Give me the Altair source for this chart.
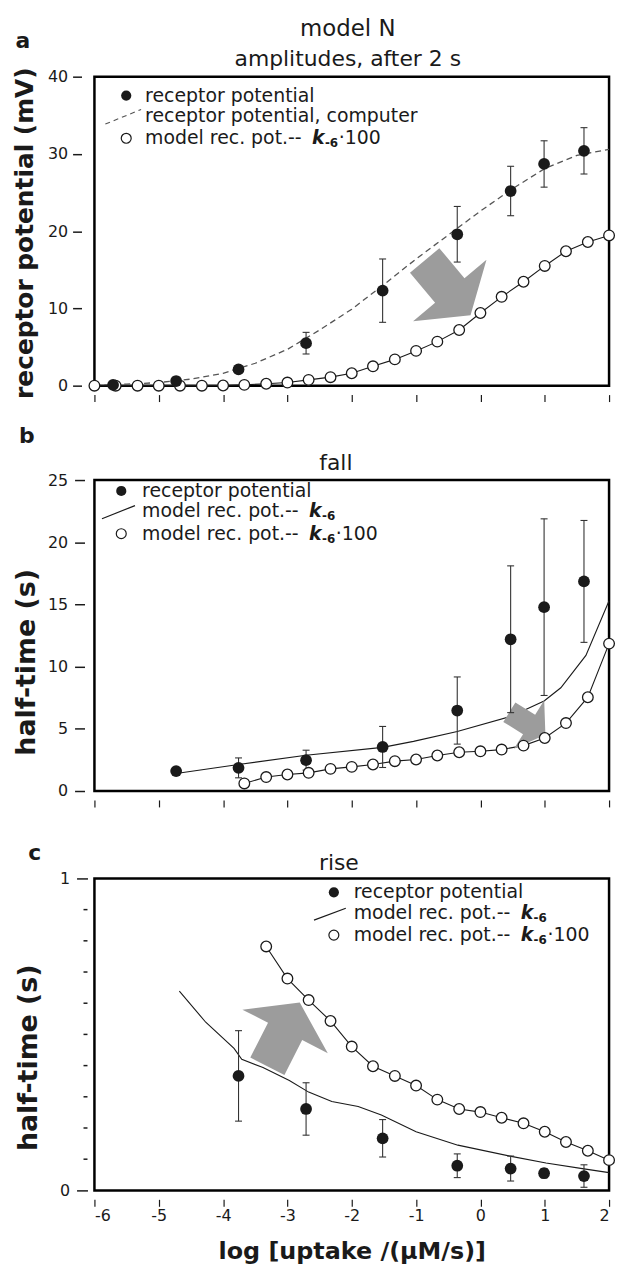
import altair as alt
import pandas as pd

FONT = "DejaVu Sans"
INK = "#1a1a1a"
GRAY = "#9c9c9c"

X_TICKS = [-6, -5, -4, -3, -2, -1, 0, 1, 2]

# ---------------- panel a : amplitudes ----------------
a_rp_x = [-5.71, -4.73, -3.76, -2.71, -1.52, -0.36, 0.47, 0.99, 1.61]
a_rp_y = [0.1, 0.6, 2.1, 5.5, 12.3, 19.6, 25.2, 28.7, 30.4]
a_rp_err = [0.0, 0.0, 0.4, 1.4, 4.1, 3.6, 3.2, 3.0, 3.0]

a_comp_x = [-6, -5.5, -5, -4.5, -4, -3.5, -3, -2.5, -2, -1.5, -1, -0.5, 0, 0.5, 1, 1.5, 2]
a_comp_y = [0.05, 0.2, 0.4, 0.85, 1.6, 2.9, 4.7, 7.2, 9.9, 13.1, 16.4, 19.5, 22.6, 25.5, 28.1, 29.8, 30.6]

a_m100_x = [-6, -5.67, -5.33, -5, -4.67, -4.33, -4, -3.67, -3.33, -3, -2.67, -2.33, -2,
            -1.67, -1.33, -1, -0.67, -0.33, 0, 0.33, 0.67, 1, 1.33, 1.67, 2]
a_m100_y = [0, 0, 0, 0, 0, 0, 0.02, 0.1, 0.25, 0.4, 0.75, 1.1, 1.6,
            2.5, 3.4, 4.5, 5.7, 7.2, 9.4, 11.5, 13.45, 15.5, 17.4, 18.6, 19.45]

# ---------------- panel b : fall half-time ----------------
b_rp_x = [-4.73, -3.76, -2.71, -1.52, -0.36, 0.47, 0.99, 1.61]
b_rp_y = [1.6, 1.86, 2.48, 3.54, 6.47, 12.2, 14.78, 16.85]
b_rp_err = [0.0, 0.8, 0.8, 1.65, 2.7, 5.9, 7.1, 4.9]

b_m_x = [-4.73, -3.76, -2.71, -1.52, -1.04, -0.36, 0.47, 0.99, 1.25, 1.64, 2.0]
b_m_y = [1.41, 2.13, 2.88, 3.51, 3.99, 4.79, 5.99, 7.24, 8.3, 10.9, 15.3]

b_m100_x = [-3.67, -3.33, -3, -2.67, -2.33, -2, -1.67, -1.33, -1, -0.67, -0.33, 0,
            0.33, 0.67, 1, 1.33, 1.67, 2]
b_m100_y = [0.61, 1.12, 1.33, 1.46, 1.78, 1.94, 2.13, 2.40, 2.53, 2.85, 3.12, 3.19,
            3.33, 3.65, 4.26, 5.46, 7.54, 11.85]

# ---------------- panel c : rise half-time ----------------
c_rp_x = [-3.76, -2.71, -1.52, -0.36, 0.47, 0.99, 1.61]
c_rp_y = [0.367, 0.261, 0.167, 0.079, 0.070, 0.055, 0.046]
c_rp_err = [0.145, 0.084, 0.06, 0.038, 0.04, 0.015, 0.036]

c_m_x = [-4.68, -4.27, -3.83, -3.71, -3.38, -2.97, -2.67, -2.31, -1.9, -1.54, -1.0,
         -0.35, 0.48, 1.02, 1.61, 2.0]
c_m_y = [0.639, 0.539, 0.455, 0.42, 0.394, 0.352, 0.315, 0.285, 0.269, 0.242, 0.188,
         0.145, 0.109, 0.088, 0.069, 0.057]

c_m100_x = [-3.33, -3, -2.67, -2.33, -2, -1.67, -1.33, -1, -0.67, -0.33, 0, 0.33, 0.67,
            1, 1.33, 1.67, 2]
c_m100_y = [0.782, 0.679, 0.610, 0.543, 0.461, 0.398, 0.367, 0.336, 0.291, 0.261, 0.251,
            0.233, 0.215, 0.188, 0.155, 0.127, 0.097]

c_minor = [0.1, 0.2, 0.3, 0.4, 0.5, 0.6, 0.7, 0.8, 0.9]

# gray block arrows (annotation, at data positions)
arrow_panel = ["a", "b", "c"]
arrow_x = [-0.51, 0.73, -3.06]
arrow_y = [12.66, 5.43, 0.50]
arrow_angle = [50, 32, 297]
arrow_size = [9300, 3300, 9300]
ARROW_PATH = "M -0.745 -0.4 L 0.071 -0.4 L 0.071 -1 L 0.745 0 L 0.071 1 L 0.071 0.4 L -0.745 0.4 Z"

ONE = pd.DataFrame({"d": [0]})
LEG_FS = 19


def xenc(axis):
    return alt.X("x:Q", scale=alt.Scale(domain=[-6, 2], nice=False, zero=False), axis=axis)


def x_axis(labels, title=None):
    kw = dict(values=X_TICKS, offset=9, tickSize=7, tickWidth=1.2, domain=False,
              grid=False, labels=labels, tickColor=INK)
    if labels:
        kw.update(labelExpr="'' + datum.value", labelFontSize=16, labelPadding=1,
                  labelFont=FONT, labelColor=INK)
    if title:
        kw.update(title=title, titleFontSize=24, titleFontWeight="bold", titleFont=FONT,
                  titleY=53, titleBaseline="middle", titleColor=INK)
    else:
        kw["title"] = None
    return alt.Axis(**kw)


def y_axis(values, offset, tick, pad, title, tfs, tx, ty):
    return alt.Axis(values=values, offset=offset, tickSize=tick, tickWidth=1.5,
                    labelPadding=pad, labelFontSize=16, labelFont=FONT, labelColor=INK,
                    labelExpr="'' + datum.value",
                    tickColor=INK, domain=False, grid=False, title=title,
                    titleFontSize=tfs, titleFontWeight="bold", titleFont=FONT,
                    titleColor=INK, titleAngle=270, titleX=tx, titleY=ty,
                    titleAlign="center", titleBaseline="middle")


def text_at(t, x, y, fs, weight="normal", align="center", style="normal"):
    return alt.Chart(ONE).mark_text(text=t, align=align, baseline="middle", font=FONT,
                                    fontSize=fs, fontWeight=weight, fontStyle=style,
                                    color=INK).encode(x=alt.value(x), y=alt.value(y))


def legend_layers(sym_x, text_x, ys, seg, dash, texts, k_lines, fs=LEG_FS):
    L = []
    L.append(alt.Chart(ONE).mark_circle(size=105, color=INK, opacity=1).encode(
        x=alt.value(sym_x), y=alt.value(ys[0])))
    rkw = dict(color="#555555" if dash else INK, strokeWidth=1.2)
    if dash:
        rkw["strokeDash"] = [5, 4]
    L.append(alt.Chart(ONE).mark_rule(**rkw).encode(
        x=alt.value(seg[0]), y=alt.value(seg[1]), x2=alt.value(seg[2]), y2=alt.value(seg[3])))
    L.append(alt.Chart(ONE).mark_point(shape="circle", filled=True, fill="white", stroke=INK,
                                       strokeWidth=1.2, size=100, opacity=1).encode(
        x=alt.value(sym_x), y=alt.value(ys[2])))
    for t, y in zip(texts, ys):
        L.append(text_at(t, text_x, y, fs, align="left"))
    kdx = 168
    for y, suffix in k_lines:
        L.append(text_at("k", text_x + kdx, y, fs, weight="bold", align="left", style="italic"))
        L.append(text_at("-6", text_x + kdx + 13, y + 5, 12, weight="bold", align="left"))
        if suffix:
            L.append(text_at(suffix, text_x + kdx + 27, y, fs, align="left"))
    return L


def data_layers(key, xa, ys, ya, rp, model, m100, dashed_model):
    X = lambda: xenc(xa)
    Y = lambda f: alt.Y(f, scale=ys, axis=ya)
    L = []
    mx, my = model
    mdf = pd.DataFrame({"x": mx, "y": my})
    if dashed_model:
        L.append(alt.Chart(mdf).mark_line(color="#555555", strokeWidth=1.3,
                                          strokeDash=[6, 4]).encode(x=X(), y=Y("y:Q")))
    else:
        L.append(alt.Chart(mdf).mark_line(color=INK, strokeWidth=1.1).encode(
            x=X(), y=Y("y:Q")))
    ox, oy = m100
    odf = pd.DataFrame({"x": ox, "y": oy})
    L.append(alt.Chart(odf).mark_line(color=INK, strokeWidth=1.1).encode(x=X(), y=Y("y:Q")))
    # arrow
    i = arrow_panel.index(key)
    adf = pd.DataFrame({"x": [arrow_x[i]], "y": [arrow_y[i]]})
    L.append(alt.Chart(adf).mark_point(shape=ARROW_PATH, filled=True, fill=GRAY, opacity=1,
                                       strokeWidth=0, size=arrow_size[i],
                                       angle=arrow_angle[i]).encode(x=X(), y=Y("y:Q")))
    # error bars
    rx, ry, re = rp
    edf = pd.DataFrame({"x": rx, "y": ry, "e": re})
    edf = edf[edf["e"] > 0].copy()
    edf["lo"] = edf["y"] - edf["e"]
    edf["hi"] = edf["y"] + edf["e"]
    L.append(alt.Chart(edf).mark_rule(color="#333333", strokeWidth=1.1).encode(
        x=X(), y=Y("lo:Q"), y2="hi:Q"))
    caps = pd.DataFrame({"x": list(edf["x"]) * 2, "v": list(edf["lo"]) + list(edf["hi"])})
    L.append(alt.Chart(caps).mark_tick(orient="horizontal", size=7, thickness=1.1,
                                       color="#333333", opacity=1).encode(x=X(), y=Y("v:Q")))
    # open circles
    L.append(alt.Chart(odf).mark_point(shape="circle", filled=True, fill="white", stroke=INK,
                                       strokeWidth=1.3, size=115, opacity=1).encode(
        x=X(), y=Y("y:Q")))
    # filled circles
    rdf = pd.DataFrame({"x": rx, "y": ry})
    L.append(alt.Chart(rdf).mark_circle(size=140, color=INK, opacity=1).encode(
        x=X(), y=Y("y:Q")))
    return L


W = 518

# ---- panel a
ysa = alt.Scale(domain=[0, 40], nice=False, zero=False)
yaa = y_axis([0, 10, 20, 30, 40], 13, 9, 5, "receptor potential (mV)", 25, -57, 157)
layers_a = data_layers("a", x_axis(False), ysa, yaa, (a_rp_x, a_rp_y, a_rp_err),
                       (a_comp_x, a_comp_y), (a_m100_x, a_m100_y), True)
layers_a += legend_layers(32, 51, [19, 40, 62], (11, 47.7, 47, 33), True,
                          ["receptor potential", "receptor potential, computer",
                           "model rec. pot.--"], [(62, "·100")])
layers_a.append(text_at("a", -72, -36, 22, weight="bold"))
layers_a.append(text_at("model N", 255, -48, 23))
layers_a.append(text_at("amplitudes, after 2 s", 255, -18, 22))
panel_a = alt.layer(*layers_a).properties(width=W, height=311)

# ---- panel b
ysb = alt.Scale(domain=[0, 25], nice=False, zero=False)
yab = y_axis([0, 5, 10, 15, 20, 25], 10, 10, 7, "half-time (s)", 27, -58, 183)
layers_b = data_layers("b", x_axis(False), ysb, yab, (b_rp_x, b_rp_y, b_rp_err),
                       (b_m_x, b_m_y), (b_m100_x, b_m100_y), False)
layers_b += legend_layers(27, 48, [11, 31, 54], (7.6, 39, 40.8, 25.7), False,
                          ["receptor potential", "model rec. pot.--", "model rec. pot.--"],
                          [(31, ""), (54, "·100")])
layers_b.append(text_at("b", -68, -44, 22, weight="bold"))
layers_b.append(text_at("fall", 243, -17, 22))
panel_b = alt.layer(*layers_b).properties(width=W, height=313)

# ---- panel c
ysc = alt.Scale(domain=[0, 1], nice=False, zero=False)
yac = y_axis([0, 1], 7, 11, 7, "half-time (s)", 27, -59, 180)
layers_c = data_layers("c", x_axis(True, "log [uptake /(μM/s)]"), ysc, yac,
                       (c_rp_x, c_rp_y, c_rp_err), (c_m_x, c_m_y), (c_m100_x, c_m100_y), False)
minor_df = pd.DataFrame({"v": c_minor})
layers_c.append(alt.Chart(minor_df).mark_tick(orient="horizontal", size=4, thickness=1.5,
                                              color=INK, opacity=1).encode(
    x=alt.value(-9), y=alt.Y("v:Q", scale=ysc, axis=yac)))
layers_c += legend_layers(241, 261, [14, 35, 57], (221, 42, 253, 30), False,
                          ["receptor potential", "model rec. pot.--", "model rec. pot.--"],
                          [(35, ""), (57, "·100")])
layers_c.append(text_at("c", -60, -26, 22, weight="bold"))
layers_c.append(text_at("rise", 246, -15, 22))
panel_c = alt.layer(*layers_c).properties(width=W, height=314)

chart = alt.vconcat(alt.vconcat(panel_a, panel_b, spacing=20), panel_c, spacing=31)
chart = chart.properties(padding={"left": 3, "top": 4, "right": 0, "bottom": 0})
chart = chart.configure_view(stroke="black", strokeWidth=2.5).configure_axis(
    grid=False, domain=False)

chart.save("out.html", embed_options={"renderer": "svg", "actions": False})
